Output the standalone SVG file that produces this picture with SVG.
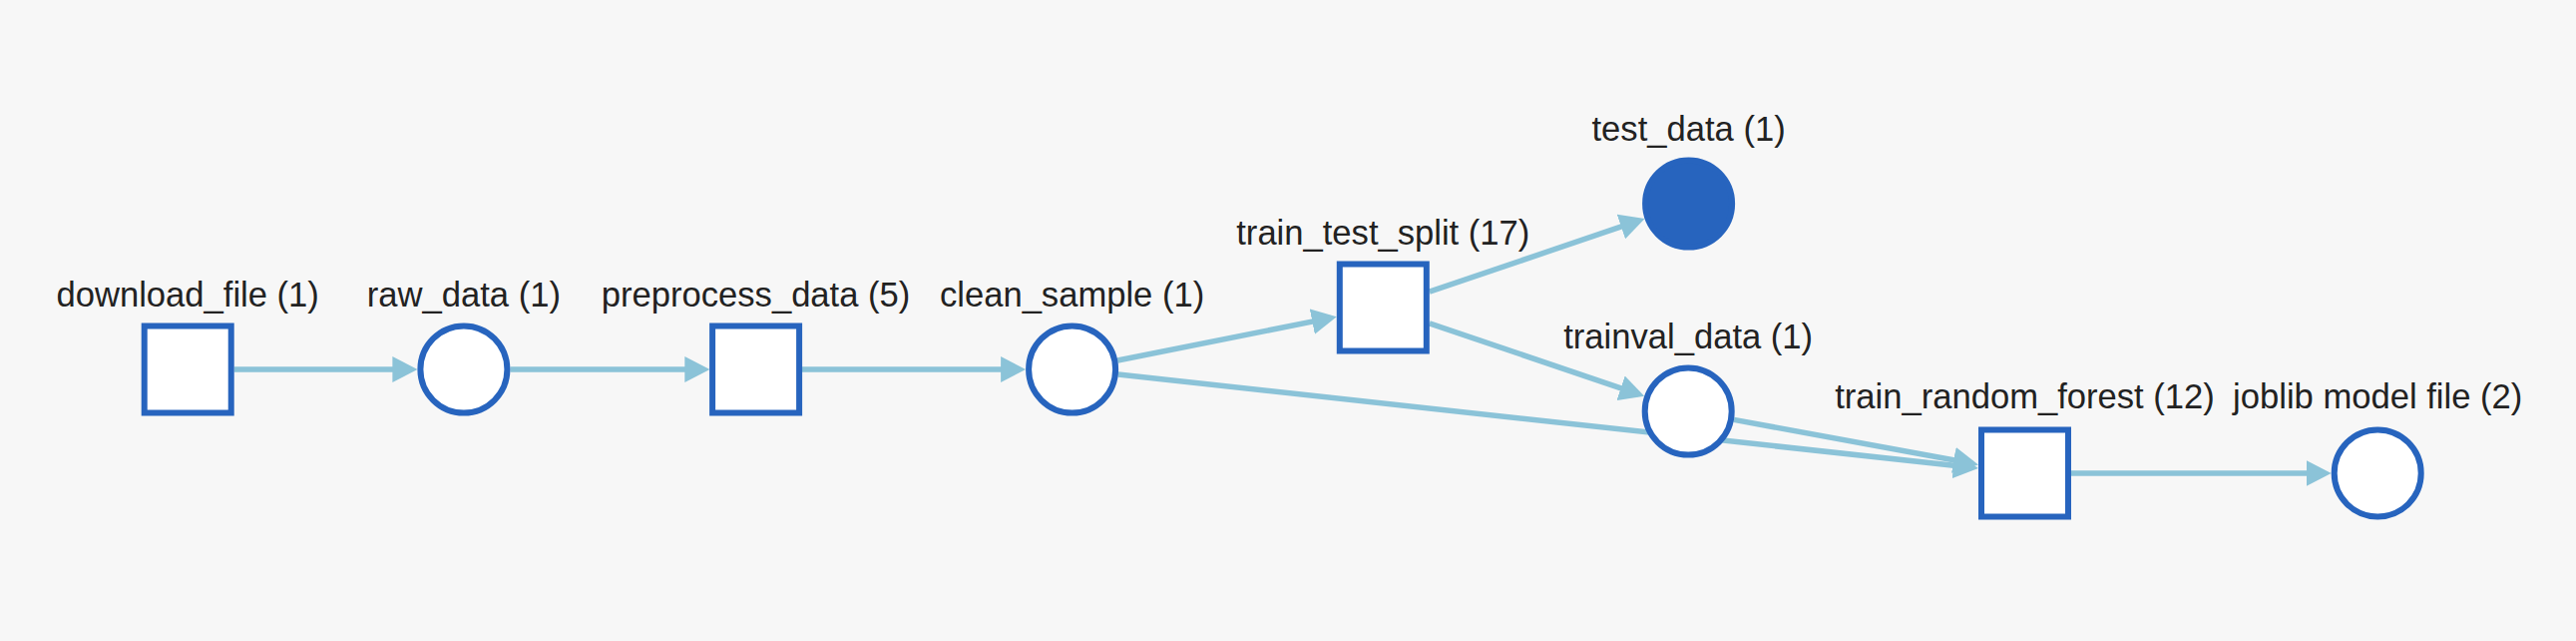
<svg xmlns="http://www.w3.org/2000/svg" width="2582" height="642" viewBox="0 0 2582 642">
<style>
.bg{fill:#f7f7f7}
.n{fill:#ffffff;stroke:#2764be;stroke-width:6}
.nf{fill:#2764be;stroke:#2764be;stroke-width:6}
.e{fill:none;stroke:#8bc3d8;stroke-width:5.5;marker-end:url(#ah)}
.t{font-family:"Liberation Sans",Arial,Helvetica,sans-serif;font-size:34.6px;fill:#222222;text-anchor:middle}
</style>
<defs>
<marker id="ah" markerUnits="userSpaceOnUse" markerWidth="25" markerHeight="26" refX="19" refY="13" orient="auto" viewBox="0 0 25 26">
<path d="M0,0 L25,13 L0,26 z" fill="#8bc3d8"/>
</marker>
</defs>
<rect class="bg" x="0" y="0" width="2582" height="642"/>
<g id="connectors">
<path class="e" d="M234.7,370 L412.4,370"/>
<path class="e" d="M511.4,370 L705.3,370"/>
<path class="e" d="M803.9,370 L1022.1,370"/>
<path class="e" d="M1120.2,361 L1333.9,318.4"/>
<path class="e" d="M1432.8,292.2 L1642.9,220.9"/>
<path class="e" d="M1432.8,323.8 L1642.5,394.9"/>
<path class="e" d="M1120.8,375 L1977,468.3"/>
<path class="e" d="M1737.9,420.4 L1977.1,464.3"/>
<path class="e" d="M2075.9,474 L2330.7,474"/>
</g>
<g id="download_file">
<rect class="n" x="144.7" y="326.5" width="87" height="87"/>
<text class="t" x="188.2" y="307">download_file (1)</text>
</g>
<g id="raw_data">
<circle class="n" cx="464.9" cy="370" r="43.5"/>
<text class="t" x="464.9" y="307">raw_data (1)</text>
</g>
<g id="preprocess_data">
<rect class="n" x="714.1" y="326.5" width="87" height="87"/>
<text class="t" x="757.6" y="307">preprocess_data (5)</text>
</g>
<g id="clean_sample">
<circle class="n" cx="1074.6" cy="370" r="43.5"/>
<text class="t" x="1074.6" y="307">clean_sample (1)</text>
</g>
<g id="train_test_split">
<rect class="n" x="1342.8" y="264.5" width="87" height="87"/>
<text class="t" x="1386.3" y="245">train_test_split (17)</text>
</g>
<g id="test_data">
<circle class="nf" cx="1692.6" cy="204" r="43.5"/>
<text class="t" x="1692.6" y="141">test_data (1)</text>
</g>
<g id="trainval_data">
<circle class="n" cx="1692.2" cy="412" r="43.5"/>
<text class="t" x="1692.2" y="349">trainval_data (1)</text>
</g>
<g id="train_random_forest">
<rect class="n" x="1986" y="430.5" width="87" height="87"/>
<text class="t" x="2029.5" y="409">train_random_forest (12)</text>
</g>
<g id="joblib_model_file">
<circle class="n" cx="2383.2" cy="474" r="43.5"/>
<text class="t" x="2383.2" y="409">joblib model file (2)</text>
</g>
</svg>
